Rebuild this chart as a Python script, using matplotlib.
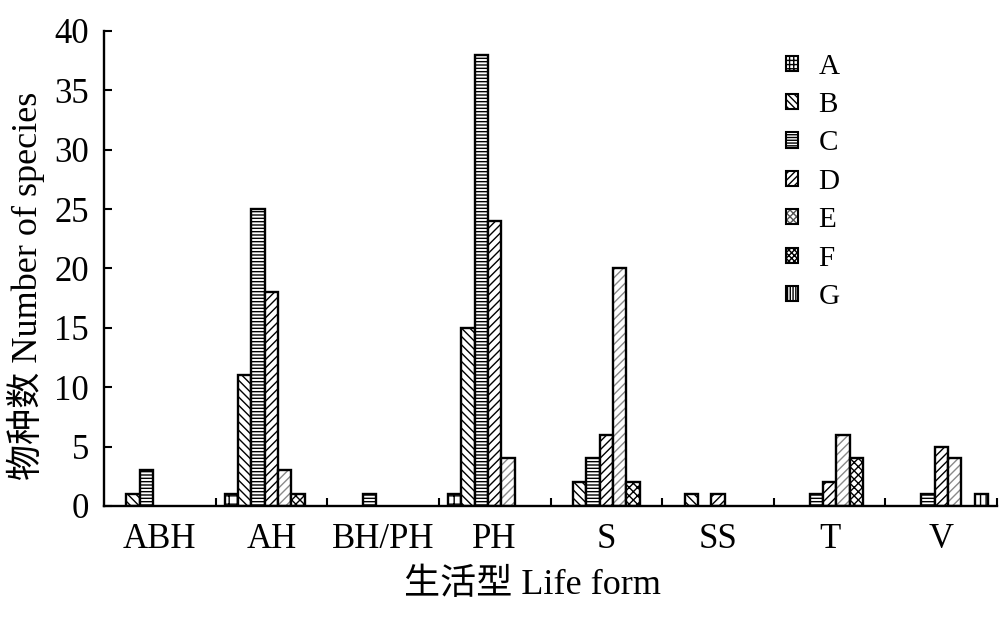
import numpy as np
import matplotlib
matplotlib.use('Agg')
import matplotlib.pyplot as plt

plt.rcParams['font.family'] = ['Liberation Serif', 'Noto Sans CJK SC']
plt.rcParams['hatch.linewidth'] = 1.0

# life form groups and series
groups = ['ABH', 'AH', 'BH/PH', 'PH', 'S', 'SS', 'T', 'V']
series = ['A', 'B', 'C', 'D', 'E', 'F', 'G']

A = [0, 1, 0, 1, 0, 0, 0, 0]
B = [1, 11, 0, 15, 2, 1, 0, 0]
C = [3, 25, 1, 38, 4, 0, 1, 1]
D = [0, 18, 0, 24, 6, 1, 2, 5]
E = [0, 3, 0, 4, 20, 0, 6, 4]
F = [0, 1, 0, 0, 2, 0, 4, 0]
G = [0, 0, 0, 0, 0, 0, 0, 1]
values = [A, B, C, D, E, F, G]

hatches = ['++', '\\\\\\\\', '-----', '////', '////', 'xxxx', '|||']
hatch_colors = ['black', 'black', 'black', 'black', '#8a8a8a', 'black', 'black']
leg_hatches = ['++++', '\\\\\\\\\\', '------', '/////', 'xxxxx', 'xxxxxx', '||||||']
leg_colors = ['black', 'black', 'black', 'black', '#555555', 'black', 'black']

fig = plt.figure(figsize=(10, 6.19), dpi=100)
ax = fig.add_axes([0.104, 0.1826, 0.893, 0.7674])

x = np.arange(len(groups))
n = len(series)
width = 0.838 / n

handles = []
for i, (name, vals) in enumerate(zip(series, values)):
    pos = x - 0.419 + width * (i + 0.5)
    vals = np.array(vals, dtype=float)
    # hatch layer, then black outline on top
    ax.bar(pos, vals, width, color='white', edgecolor=hatch_colors[i],
           hatch=hatches[i], linewidth=0)
    mask = vals > 0
    ax.bar(pos[mask], vals[mask], width, fill=False, edgecolor='black',
           linewidth=1.7)
    h1 = plt.Rectangle((0, 0), 1, 1, facecolor='white', edgecolor=leg_colors[i],
                       hatch=leg_hatches[i], linewidth=0)
    h2 = plt.Rectangle((0, 0), 1, 1, fill=False, edgecolor='black', linewidth=1.5)
    handles.append((h1, h2))

ax.set_xlim(-0.5, len(groups) - 0.5)
ax.set_ylim(0, 40)
ax.set_yticks(np.arange(0, 41, 5))
ax.set_xticks(x)
ax.set_xticklabels(groups)
ax.set_xticks(np.arange(0.5, len(groups), 1), minor=True)
ax.tick_params(axis='x', which='major', length=0, labelsize=25, pad=12)
ax.tick_params(axis='x', which='minor', direction='in', length=6, width=1.5)
ax.tick_params(axis='y', direction='in', length=6, width=1.5, labelsize=25, pad=11)

ax.spines['top'].set_visible(False)
ax.spines['right'].set_visible(False)
ax.spines['left'].set_linewidth(1.7)
ax.spines['bottom'].set_linewidth(1.7)

ax.set_xlabel('生活型 Life form', fontsize=26)
ax.set_ylabel('物种数 Number of species', fontsize=26)
ax.xaxis.set_label_coords((532 - 104) / 893, -0.132)
ax.yaxis.set_label_coords(-0.066, 0.463)

ax.legend(handles, series, loc='upper left', bbox_to_anchor=(0.771, 0.937),
          bbox_transform=fig.transFigure, frameon=False, fontsize=21,
          handlelength=0.43, handleheight=0.43, handletextpad=0.7,
          labelspacing=0.425, borderpad=0)

fig.savefig('out.png', dpi=100)
